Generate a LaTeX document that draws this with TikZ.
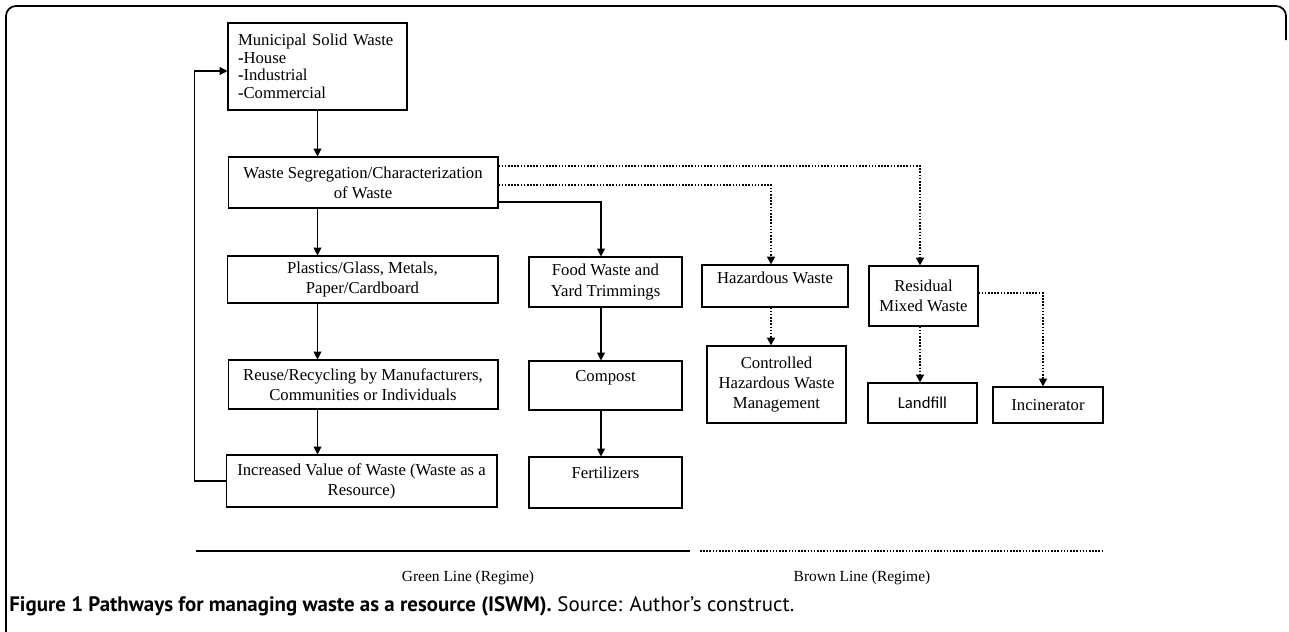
\documentclass[tikz,border=0pt]{standalone}
\usepackage{fontspec}
\setmainfont{Liberation Serif}
\newfontfamily\capfont{PT Sans}
\newfontfamily\lblfont{Carlito}
\usetikzlibrary{arrows.meta, calc}
\tikzset{
	box/.style   ={rectangle, draw=black, semithick, align=center, inner sep=2pt, font=\fontsize{9.5}{11.5}\selectfont},
	flow/.style  ={-{Triangle[length=4.5pt, width=4.5pt]}, semithick},
	dflow/.style ={-{Triangle[length=4.5pt, width=4.5pt]}, line width=1.1pt, dash pattern=on 0.9pt off 0.9pt},
	legend/.style={font=\fontsize{8.8}{10}\selectfont, inner sep=0pt},
}
\begin{document}
\begin{tikzpicture}[x=0.02cm, y=-0.02cm]
	\useasboundingbox (0,0) rectangle (1289,632);
	% outer frame
	\draw[line width=1pt, rounded corners=0.2cm] (22,642) -- (6,642) -- (6,6) -- (1286,6) -- (1286,40);
	% left column
	\node[box, align=left, text width=3.18cm, inner xsep=0.2cm, minimum height=1.74cm, font=\fontsize{9.5}{10}\selectfont] (msw) at (317.5,66.5)
		{Municipal Solid Waste\\ \textbf{-}House\\ \textbf{-}Industrial\\ \textbf{-}Commercial};
	\node[box, minimum width=5.40cm, minimum height=1.02cm] (ws) at (363,182.5) {Waste Segregation/Characterization\\ of Waste};
	\node[box, minimum width=5.42cm, minimum height=0.94cm] (pg) at (362.5,279.5) {Plastics/Glass, Metals,\\ Paper/Cardboard};
	\node[box, minimum width=5.40cm, minimum height=0.98cm] (reuse) at (363,384.5) {Reuse/Recycling by Manufacturers,\\ Communities or Individuals};
	\node[box, minimum width=5.42cm, minimum height=1.04cm] (incv) at (361.5,481) {Increased Value of Waste (Waste as a\\ Resource)};
	% organic column
	\node[box, minimum width=3.06cm, minimum height=1.00cm] (food) at (605.5,282) {Food Waste and\\ Yard Trimmings};
	\node[box, minimum width=3.06cm, minimum height=0.98cm] (comp) at (605.5,385.5) {Compost\\[-4pt] \strut};
	\node[box, minimum width=3.06cm, minimum height=1.02cm] (fert) at (605.5,482.5) {Fertilizers\\[-4pt] \strut};
	% brown side
	\node[box, minimum width=2.92cm, minimum height=0.84cm] (haz) at (775,286) {Hazardous Waste\\[-6pt] \strut};
	\node[box, minimum width=2.78cm, minimum height=1.54cm] (ctrl) at (776.5,384.5) {Controlled\\ Hazardous Waste\\ Management};
	\node[box, minimum width=2.18cm, minimum height=1.20cm] (resid) at (923.5,296) {Residual\\ Mixed Waste};
	\node[box, minimum width=2.18cm, minimum height=0.80cm, font=\lblfont\fontsize{9.5}{11.5}\selectfont] (land) at (922.5,403) {Landfill};
	\node[box, minimum width=2.20cm, minimum height=0.72cm] (inc) at (1048,405) {Incinerator};

	\draw[flow] (msw) -- (msw |- ws.north);
	\draw[flow] (ws.south -| msw) -- (msw |- pg.north);
	\draw[flow] (pg.south -| msw) -- (msw |- reuse.north);
	\draw[flow] (reuse.south -| msw) -- (msw |- incv.north);
	\draw[flow] (incv.west) -- ++(-0.62cm,0) |- ([yshift=-0.09cm]msw.west);
	\draw[flow] ([yshift=-0.39cm]ws.east) -| ([xshift=-0.09cm]food.north);
	\draw[flow] ([xshift=-0.09cm]food.south) -- ([xshift=-0.09cm]food.south |- comp.north);
	\draw[flow] ([xshift=-0.09cm]comp.south) -- ([xshift=-0.09cm]comp.south |- fert.north);

	\draw[dflow] ([yshift=-0.05cm]ws.east) -| ([xshift=-0.08cm]haz.north);
	\draw[dflow] ([yshift=0.33cm]ws.east) -| ([xshift=-0.07cm]resid.north);
	\draw[dflow] ([xshift=-0.08cm]haz.south) -- ([xshift=-0.08cm]haz.south |- ctrl.north);
	\draw[dflow] ([xshift=-0.07cm]resid.south) -- ([xshift=-0.07cm]resid.south |- land.north);
	\draw[dflow] ([yshift=0.06cm]resid.east) -| ([xshift=-0.1cm]inc.north);

	% legend
	\coordinate (g0) at (196,551);
	\coordinate (g1) at (690,551);
	\coordinate (b0) at (700,551);
	\coordinate (b1) at (1102,551);
	\draw[semithick] (g0) -- (g1);
	\draw[line width=1.1pt, dash pattern=on 0.9pt off 0.9pt] (b0) -- (b1);
	\node[legend] (gl) at (468,578) {Green Line (Regime)};
	\node[legend] (bl) at (862,578) {Brown Line (Regime)};

	\node[anchor=base west, inner sep=0pt, font=\capfont\fontsize{11.9}{14}\selectfont] (cap) at (9,611)
		{\textbf{Figure 1 Pathways for managing waste as a resource (ISWM).} Source: Author’s construct.};
\end{tikzpicture}
\end{document}
